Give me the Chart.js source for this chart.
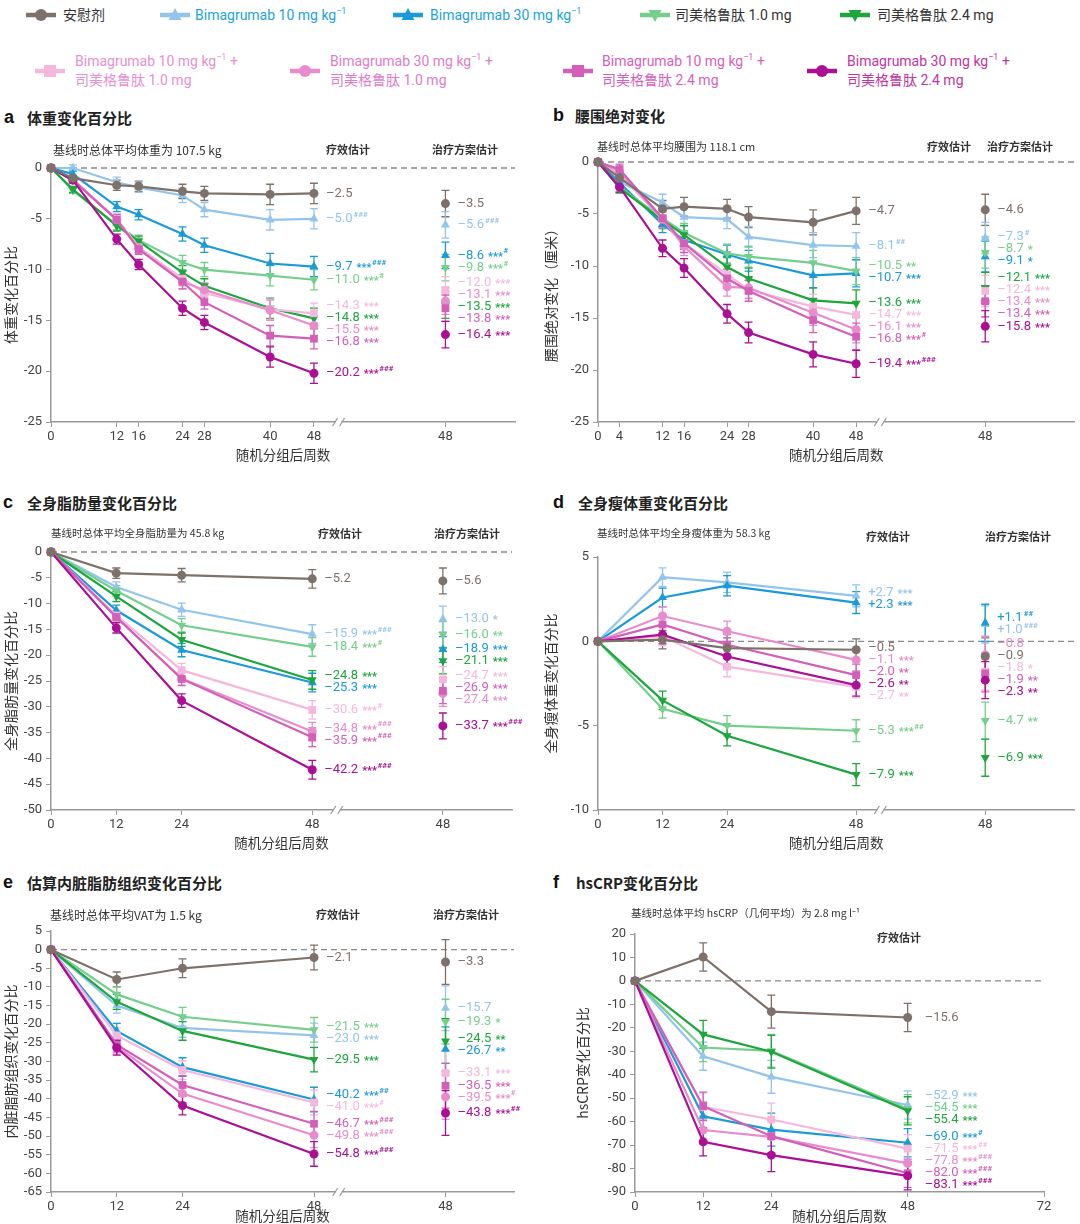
<!DOCTYPE html>
<html>
<head>
<meta charset="utf-8">
<script src="https://cdn.jsdelivr.net/npm/chart.js@4.4.0/dist/chart.umd.min.js"></script>
<style>
body { margin: 0; width: 1080px; height: 1224px; position: relative; background: #fff; overflow: hidden;
  font-family: Roboto, 'Noto Sans CJK SC', sans-serif; }
canvas { position: absolute; }
.lgi { position: absolute; }
.lgt { position: absolute; white-space: nowrap; font-size: 14px; line-height: 19px; }
.lgt sup { font-size: 9px; line-height: 0; vertical-align: 6px; }
.tl { position: absolute; font-family: 'Liberation Sans', Arial, sans-serif; font-weight: bold; font-size: 18px; line-height: 20px; color: #111; }
.tt { position: absolute; font-family: 'Noto Sans CJK SC', sans-serif; font-weight: bold; font-size: 15px; line-height: 20px; color: #222; }
</style>
</head>
<body>
<div id="legend"></div>
<div id="titles"></div>
<canvas id="cA"></canvas>
<canvas id="cB"></canvas>
<canvas id="cC"></canvas>
<canvas id="cD"></canvas>
<canvas id="cE"></canvas>
<canvas id="cF"></canvas>
<script>
// ---- series ----
const seriesNames = ['安慰剂', 'Bimagrumab 10 mg kg⁻¹', 'Bimagrumab 30 mg kg⁻¹', '司美格鲁肽 1.0 mg', '司美格鲁肽 2.4 mg',
  'Bimagrumab 10 mg kg⁻¹ + 司美格鲁肽 1.0 mg', 'Bimagrumab 30 mg kg⁻¹ + 司美格鲁肽 1.0 mg',
  'Bimagrumab 10 mg kg⁻¹ + 司美格鲁肽 2.4 mg', 'Bimagrumab 30 mg kg⁻¹ + 司美格鲁肽 2.4 mg']
const seriesColors = ['#7e716a', '#93c5ec', '#1b9ad8', '#74cf8b', '#1ca63c', '#f5b8dd', '#e88ccd', '#d35fb9', '#ab0f95']
const legendTextColors = ['#333', '#21a3de', '#21a3de', '#333', '#333', '#e690d2', '#e07cc8', '#d65fbb', '#c2359f']
const seriesMarkers = ['circle', 'triangle', 'triangle', 'triangle', 'triangle', 'rect', 'circle', 'rect', 'circle']
const markerRotation = [0, 0, 0, 180, 180, 0, 0, 0, 0]

const weeksLong = [0, 4, 12, 16, 24, 28, 40, 48]
const weeksShort = [0, 12, 24, 48]

// a 体重变化百分比
const weightPct = [
  [0, -1.0, -1.7, -1.8, -2.3, -2.5, -2.6, -2.5],
  [0, 0.0, -1.4, -1.9, -2.7, -4.1, -5.1, -5.0],
  [0, -0.6, -3.8, -4.6, -6.5, -7.6, -9.4, -9.7],
  [0, -2.2, -5.6, -7.1, -9.3, -10.0, -10.6, -11.0],
  [0, -2.1, -5.7, -7.2, -10.3, -11.6, -13.8, -14.8],
  [0, -1.2, -5.0, -7.8, -10.9, -12.3, -13.9, -14.3],
  [0, -1.1, -5.1, -7.9, -11.2, -12.0, -14.0, -15.5],
  [0, -1.2, -5.1, -8.0, -11.2, -13.2, -16.5, -16.8],
  [0, -1.2, -7.0, -9.5, -13.8, -15.2, -18.6, -20.2]
]
const weightErr = [0, 0.3, 0.5, 0.5, 0.7, 0.7, 1.0, 1.0]
const weightReg = [-3.5, -5.6, -8.6, -9.8, -13.5, -12.0, -13.1, -13.8, -16.4]
const weightStars = ['', '###', '***###', '***#', '***', '***', '***', '***', '***###']
const weightRegStars = ['', '###', '***#', '***#', '***', '***', '***', '***', '***']

// b 腰围绝对变化
const waistCm = [
  [0, -1.5, -4.5, -4.3, -4.5, -5.3, -5.8, -4.7],
  [0, -1.9, -3.9, -5.3, -5.5, -7.2, -8.0, -8.1],
  [0, -2.0, -6.0, -7.5, -8.9, -9.5, -10.9, -10.7],
  [0, -2.4, -5.4, -6.8, -8.8, -9.1, -9.7, -10.5],
  [0, -2.5, -5.6, -7.0, -10.1, -11.2, -13.3, -13.6],
  [0, -1.2, -5.5, -7.8, -10.8, -12.3, -13.9, -14.7],
  [0, -0.9, -5.5, -8.1, -12.0, -12.1, -14.5, -16.1],
  [0, -0.7, -5.4, -7.8, -11.2, -12.4, -15.2, -16.8],
  [0, -2.4, -8.3, -10.2, -14.6, -16.4, -18.5, -19.4]
]
const waistErr = [0, 0.5, 0.8, 0.9, 0.9, 1.0, 1.2, 1.3]
const waistReg = [-4.6, -7.3, -9.1, -8.7, -12.1, -12.4, -13.4, -13.4, -15.8]
const waistStars = ['', '##', '***', '**', '***', '***', '***', '***#', '***###']
const waistRegStars = ['', '#', '*', '*', '***', '***', '***', '***', '***']

// c 全身脂肪量变化百分比
const fatPct = [
  [0, -4.1, -4.5, -5.2],
  [0, -6.8, -11.2, -15.9],
  [0, -11.3, -19.0, -25.3],
  [0, -7.5, -14.2, -18.4],
  [0, -8.6, -17.0, -24.8],
  [0, -12.3, -22.9, -30.6],
  [0, -12.7, -24.5, -34.8],
  [0, -12.6, -24.6, -35.9],
  [0, -14.7, -28.8, -42.2]
]
const fatErr = [0, 1.0, 1.3, 1.8]
const fatReg = [-5.6, -13.0, -18.9, -16.0, -21.1, -24.7, -27.4, -26.9, -33.7]
const fatStars = ['', '***###', '***', '***#', '***', '***#', '***###', '***###', '***###']
const fatRegStars = ['', '*', '***', '**', '***', '***', '***', '***', '***###']

// d 全身瘦体重变化百分比
const leanPct = [
  [0, 0.1, -0.4, -0.5],
  [0, 3.8, 3.5, 2.7],
  [0, 2.6, 3.3, 2.3],
  [0, -4.0, -5.0, -5.3],
  [0, -3.5, -5.6, -7.9],
  [0, 0.3, -1.5, -2.7],
  [0, 1.5, 0.6, -1.1],
  [0, 1.0, -0.2, -2.0],
  [0, 0.4, -0.9, -2.6]
]
const leanErr = [0, 0.55, 0.6, 0.65]
const leanReg = [-0.9, 1.0, 1.1, -4.7, -6.9, -1.8, -0.8, -1.9, -2.3]
const leanStars = ['', '***', '***', '***##', '***', '**', '***', '**', '**']
const leanRegStars = ['', '###', '##', '**', '***', '*', '', '**', '**']

// e 估算内脏脂肪组织变化百分比
const vatPct = [
  [0, -8.0, -5.0, -2.1],
  [0, -15.0, -21.0, -23.0],
  [0, -21.8, -31.5, -40.2],
  [0, -12.0, -18.0, -21.5],
  [0, -14.0, -21.8, -29.5],
  [0, -23.0, -32.3, -41.0],
  [0, -26.0, -38.6, -49.8],
  [0, -25.5, -36.3, -46.7],
  [0, -26.3, -41.8, -54.8]
]
const vatErr = [0, 2.0, 2.5, 3.3]
const vatReg = [-3.3, -15.7, -26.7, -19.3, -24.5, -33.1, -39.5, -36.5, -43.8]
const vatStars = ['', '***', '***##', '***', '***', '***#', '***###', '***###', '***###']
const vatRegStars = ['', '', '**', '*', '**', '***', '***#', '***', '***##']

// f hsCRP变化百分比
const crpPct = [
  [0, 10.2, -13.1, -15.6],
  [0, -32.1, -40.9, -52.9],
  [0, -57.7, -63.4, -69.0],
  [0, -28.4, -29.8, -54.5],
  [0, -22.8, -30.2, -55.4],
  [0, -53.7, -59.1, -71.5],
  [0, -63.6, -66.5, -77.8],
  [0, -53.4, -66.2, -82.0],
  [0, -68.6, -74.3, -83.1]
]
const crpErr = [0, 6, 7, 6]
const crpStars = ['', '***', '***#', '***', '***', '***##', '***###', '***###', '***###']

const fontFam = "Roboto, 'Noto Sans CJK SC', sans-serif"
const cjkFam = "'Noto Sans CJK SC', Roboto, sans-serif"

// ---- legend ----  [icon left, centre y, text left]
const legendPos = [
  [26, 15, 63], [160, 15, 195], [393, 15, 430], [640, 15, 675], [840, 15, 877],
  [35, 71, 75], [290, 71, 330], [563, 71, 602], [807, 71, 847]
]
const legendHtml = ['安慰剂', 'Bimagrumab 10 mg kg<sup>−1</sup>', 'Bimagrumab 30 mg kg<sup>−1</sup>', '司美格鲁肽 1.0 mg', '司美格鲁肽 2.4 mg',
  'Bimagrumab 10 mg kg<sup>−1</sup> +<br>司美格鲁肽 1.0 mg', 'Bimagrumab 30 mg kg<sup>−1</sup> +<br>司美格鲁肽 1.0 mg',
  'Bimagrumab 10 mg kg<sup>−1</sup> +<br>司美格鲁肽 2.4 mg', 'Bimagrumab 30 mg kg<sup>−1</sup> +<br>司美格鲁肽 2.4 mg']

function markerSvg(i) {
  const c = seriesColors[i]
  let shape
  if (seriesMarkers[i] === 'circle') shape = `<circle cx="15" cy="8" r="6" fill="${c}"/>`
  else if (seriesMarkers[i] === 'rect') shape = `<rect x="9" y="2" width="12" height="12" fill="${c}"/>`
  else if (markerRotation[i]) shape = `<polygon points="15,15 21.5,3 8.5,3" fill="${c}"/>`
  else shape = `<polygon points="15,1 21.5,13 8.5,13" fill="${c}"/>`
  return `<svg width="30" height="16"><line x1="0" y1="8" x2="30" y2="8" stroke="${c}" stroke-width="4.5"/>${shape}</svg>`
}

const legend = document.getElementById('legend')
legendPos.forEach(([ix, cy, tx], i) => {
  const two = legendHtml[i].includes('<br>')
  legend.insertAdjacentHTML('beforeend',
    `<div class="lgi" style="left:${ix}px;top:${cy - 8}px">${markerSvg(i)}</div>` +
    `<div class="lgt" style="left:${tx}px;top:${cy - (two ? 19 : 9.5)}px;color:${legendTextColors[i]}">${legendHtml[i]}</div>`)
})

// ---- panel titles ----
const titleList = [
  ['a', 4, 118, 27, '体重变化百分比'], ['b', 553, 116, 575, '腰围绝对变化'],
  ['c', 3, 503, 27, '全身脂肪量变化百分比'], ['d', 553, 503, 578, '全身瘦体重变化百分比'],
  ['e', 3, 883, 27, '估算内脏脂肪组织变化百分比'], ['f', 553, 883, 576, 'hsCRP变化百分比']
]
const titles = document.getElementById('titles')
titleList.forEach(([l, lx, cy, tx, t]) => {
  titles.insertAdjacentHTML('beforeend',
    `<div class="tl" style="left:${lx}px;top:${cy - 11}px">${l}</div><div class="tt" style="left:${tx}px;top:${cy - 10}px">${t}</div>`)
})

// ---- plugins ----
function fmt(v) {
  return (v > 0 ? '+' : v < 0 ? '–' : '') + Math.abs(v).toFixed(1)
}

function spread(items, gap) {
  items.sort((a, b) => a.y0 - b.y0)
  let groups = items.map(it => ({ items: [it], y: it.y0 }))
  let merged = true
  while (merged) {
    merged = false
    for (let i = 0; i < groups.length - 1; i++) {
      const g1 = groups[i], g2 = groups[i + 1]
      const b1 = g1.y + (g1.items.length - 1) * gap / 2
      const t2 = g2.y - (g2.items.length - 1) * gap / 2
      if (t2 - b1 < gap) {
        const all = g1.items.concat(g2.items)
        const y = all.reduce((s, it) => s + it.y0, 0) / all.length
        groups.splice(i, 2, { items: all, y })
        merged = true
        break
      }
    }
  }
  groups.forEach(g => g.items.forEach((it, k) => { it.y = g.y + (k - (g.items.length - 1) / 2) * gap }))
}

function drawLabel(ctx, it, x) {
  ctx.fillStyle = it.color
  ctx.textAlign = 'left'
  ctx.textBaseline = 'middle'
  ctx.font = '13px ' + fontFam
  ctx.fillText(it.text, x, it.y)
  const st = it.stars.replace(/#/g, ''), hs = it.stars.replace(/\*/g, '')
  let cx = x + ctx.measureText(it.text).width + (st ? 4 : 1)
  if (st) {
    ctx.font = 'bold 11px ' + fontFam
    ctx.fillText(st, cx, it.y + 1.5)
    cx += ctx.measureText(st).width + 0.5
  }
  if (hs) {
    ctx.font = 'bold 8px ' + fontFam
    ctx.fillText(hs, cx, it.y - 4)
  }
}

const panelDecor = {
  id: 'panelDecor',
  beforeDatasetsDraw(chart) {
    const { ctx, chartArea: a, scales: { x, y } } = chart
    const y0 = y.getPixelForValue(0)
    ctx.save()
    ctx.strokeStyle = '#8a8a8a'
    ctx.lineWidth = 1.3
    ctx.setLineDash([6, 4])
    ctx.beginPath()
    ctx.moveTo(a.left, y0)
    ctx.lineTo(a.right, y0)
    ctx.stroke()
    ctx.setLineDash([])
    chart.data.datasets.forEach(ds => {
      ctx.strokeStyle = ds.borderColor
      ctx.lineWidth = 1.3
      ds.data.forEach((p, k) => {
        const e = ds.errs[k]
        if (!e) return
        const px = x.getPixelForValue(p.x)
        const ya = y.getPixelForValue(p.y + e), yb = y.getPixelForValue(p.y - e)
        ctx.beginPath()
        ctx.moveTo(px, ya); ctx.lineTo(px, yb)
        ctx.moveTo(px - 4, ya); ctx.lineTo(px + 4, ya)
        ctx.moveTo(px - 4, yb); ctx.lineTo(px + 4, yb)
        ctx.stroke()
      })
    })
    ctx.restore()
  },
  afterDatasetsDraw(chart, args, o) {
    const { ctx, scales: { x, y } } = chart
    const cols = {}
    chart.data.datasets.forEach(ds => {
      const p = ds.data[ds.data.length - 1]
      const list = cols[ds.column] = cols[ds.column] || []
      list.push({ y0: y.getPixelForValue(p.y), px: x.getPixelForValue(p.x), text: ds.endLabel, stars: ds.stars, color: ds.borderColor })
    })
    ctx.save()
    Object.values(cols).forEach(items => {
      spread(items, 12)
      items.forEach(it => drawLabel(ctx, it, it.px + o.labelDx))
    })
    ctx.restore()
  },
  afterDraw(chart, args, o) {
    const { ctx, chartArea: a, scales: { x } } = chart
    ctx.save()
    ctx.textBaseline = 'middle'
    ctx.fillStyle = '#333'
    ctx.textAlign = 'left'
    ctx.font = o.subSize + 'px ' + cjkFam
    ctx.fillText(o.sub, o.subX, o.subY)
    ctx.textAlign = 'center'
    ctx.font = 'bold 11px ' + cjkFam
    ctx.fillText('疗效估计', o.effX, o.headY)
    if (o.regX) ctx.fillText('治疗方案估计', o.regX, o.headY)
    if (o.breakAt) {
      const bx = x.getPixelForValue(o.breakAt)
      ctx.fillStyle = '#fff'
      ctx.fillRect(bx - 3, a.bottom - 3, 6, 6)
      ctx.strokeStyle = '#999'
      ctx.lineWidth = 1.2
      ctx.beginPath()
      ctx.moveTo(bx - 6, a.bottom + 4); ctx.lineTo(bx - 1, a.bottom - 4)
      ctx.moveTo(bx + 1, a.bottom + 4); ctx.lineTo(bx + 6, a.bottom - 4)
      ctx.stroke()
    }
    ctx.restore()
  }
}

// ---- panels ----
const panels = [
  { id: 'cA', left: 0, top: 130, w: 540, h: 337, area: { left: 51, top: 168, right: 515, bottom: 422 },
    xMax: 84.7, xTicks: [0, 12, 16, 24, 28, 40, 48, 72], weeks: weeksLong, values: weightPct, err: weightErr,
    regimen: weightReg, regErr: 1.3, stars: weightStars, regStars: weightRegStars, yMin: -25, yMax: 0, yStep: 5,
    yTitle: '体重变化百分比', sub: '基线时总体平均体重为 107.5 kg', subSize: 12, subX: 53, subY: 150, effX: 348, regX: 465, headY: 150,
    breakAt: 52.5, labelDx: 12, xTitlePad: 4 },
  { id: 'cB', left: 540, top: 130, w: 540, h: 337, area: { left: 598, top: 162, right: 1080, bottom: 422 },
    xMax: 88.6, xTicks: [0, 4, 12, 16, 24, 28, 40, 48, 72], weeks: weeksLong, values: waistCm, err: waistErr,
    regimen: waistReg, regErr: 1.5, stars: waistStars, regStars: waistRegStars, yMin: -25, yMax: 0, yStep: 5,
    yTitle: '腰围绝对变化（厘米）', sub: '基线时总体平均腰围为 118.1 cm', subSize: 11, subX: 597, subY: 147, effX: 949, regX: 1020, headY: 147,
    breakAt: 52.5, labelDx: 12, xTitlePad: 4 },
  { id: 'cC', left: 0, top: 515, w: 540, h: 340, area: { left: 51, top: 552, right: 512, bottom: 810 },
    xMax: 84.7, xTicks: [0, 12, 24, 48, 72], weeks: weeksShort, values: fatPct, err: fatErr,
    regimen: fatReg, regErr: 2.5, stars: fatStars, regStars: fatRegStars, yMin: -50, yMax: 0, yStep: 5,
    yTitle: '全身脂肪量变化百分比', sub: '基线时总体平均全身脂肪量为 45.8 kg', subSize: 10.5, subX: 51, subY: 533, effX: 340, regX: 467, headY: 534,
    breakAt: 52.5, labelDx: 12, xTitlePad: 4 },
  { id: 'cD', left: 540, top: 515, w: 540, h: 340, area: { left: 598, top: 557, right: 1080, bottom: 810 },
    xMax: 88.6, xTicks: [0, 12, 24, 48, 72], weeks: weeksShort, values: leanPct, err: leanErr,
    regimen: leanReg, regErr: 1.1, stars: leanStars, regStars: leanRegStars, yMin: -10, yMax: 5, yStep: 5,
    yTitle: '全身瘦体重变化百分比', sub: '基线时总体平均全身瘦体重为 58.3 kg', subSize: 10.5, subX: 597, subY: 533, effX: 888, regX: 1018, headY: 537,
    breakAt: 52.5, labelDx: 12, xTitlePad: 4 },
  { id: 'cE', left: 0, top: 897, w: 540, h: 327, area: { left: 51, top: 931, right: 514, bottom: 1192 },
    xMax: 84.5, xTicks: [0, 12, 24, 48, 72], weeks: weeksShort, values: vatPct, err: vatErr,
    regimen: vatReg, regErr: 6, stars: vatStars, regStars: vatRegStars, yMin: -65, yMax: 5, yStep: 5,
    yTitle: '内脏脂肪组织变化百分比', sub: '基线时总体平均VAT为 1.5 kg', subSize: 12, subX: 50, subY: 915, effX: 338, regX: 466, headY: 915,
    breakAt: 52.5, labelDx: 12, xTitlePad: 0 },
  { id: 'cF', left: 540, top: 897, w: 540, h: 327, padLeft: 32, area: { left: 635, top: 934, right: 1044, bottom: 1192 },
    xMax: 72, xTicks: [0, 12, 24, 48, 72], weeks: weeksShort, values: crpPct, err: crpErr,
    regimen: null, stars: crpStars, yMin: -90, yMax: 20, yStep: 10,
    yTitle: 'hsCRP变化百分比', sub: '基线时总体平均 hsCRP（几何平均）为 2.8 mg l⁻¹', subSize: 10.5, subX: 631, subY: 913, effX: 899, regX: null, headY: 938,
    breakAt: null, labelDx: 17, xTitlePad: 0 }
]

function makePanel(p) {
  const canvas = document.getElementById(p.id)
  canvas.width = p.w
  canvas.height = p.h
  canvas.style.left = p.left + 'px'
  canvas.style.top = p.top + 'px'

  const datasets = []
  seriesNames.forEach((name, i) => {
    const common = {
      borderColor: seriesColors[i],
      backgroundColor: seriesColors[i],
      pointStyle: seriesMarkers[i],
      pointRotation: markerRotation[i],
      pointRadius: seriesMarkers[i] === 'circle' ? 4.5 : seriesMarkers[i] === 'rect' ? 5.5 : 5.2,
      pointBorderWidth: 0,
      clip: false,
      order: i === 0 ? 0 : 9 - i
    }
    datasets.push({
      ...common,
      label: name,
      data: p.weeks.map((w, k) => ({ x: w, y: p.values[i][k] })),
      borderWidth: 2.2,
      tension: 0,
      errs: p.err,
      endLabel: fmt(p.values[i][p.values[i].length - 1]),
      stars: p.stars[i],
      column: 'eff'
    })
    if (p.regimen) {
      datasets.push({
        ...common,
        label: name + ' 治疗方案估计',
        data: [{ x: 72, y: p.regimen[i] }],
        showLine: false,
        errs: [p.regErr],
        endLabel: fmt(p.regimen[i]),
        stars: p.regStars[i],
        column: 'reg'
      })
    }
  })

  const padLeft = p.padLeft || 0
  const loc = v => v - p.left
  new Chart(canvas, {
    type: 'line',
    data: { datasets },
    options: {
      responsive: false,
      animation: false,
      layout: { padding: { top: p.area.top - p.top, right: p.left + p.w - p.area.right, left: padLeft, bottom: 0 } },
      plugins: {
        legend: { display: false },
        tooltip: { enabled: false },
        panelDecor: {
          sub: p.sub, subSize: p.subSize, subX: loc(p.subX), subY: p.subY - p.top,
          effX: loc(p.effX), regX: p.regX ? loc(p.regX) : null, headY: p.headY - p.top,
          breakAt: p.breakAt, labelDx: p.labelDx
        }
      },
      scales: {
        x: {
          type: 'linear', min: 0, max: p.xMax,
          afterBuildTicks: ax => { ax.ticks = p.xTicks.map(v => ({ value: v })) },
          afterFit: ax => { ax.height = p.top + p.h - p.area.bottom },
          ticks: {
            autoSkip: false, maxRotation: 0, padding: 2, color: '#444',
            font: { family: fontFam, size: 13 },
            callback: v => (v === 72 && p.regimen ? '48' : String(v))
          },
          grid: { display: true, drawOnChartArea: false, tickLength: 5, color: '#999' },
          border: { color: '#999', width: 1.5 },
          title: { display: true, text: '随机分组后周数', color: '#333', font: { family: cjkFam, size: 13.5 },
            padding: { top: 0, bottom: p.xTitlePad } }
        },
        y: {
          min: p.yMin, max: p.yMax,
          afterFit: ax => { ax.width = p.area.left - p.left - padLeft },
          ticks: { stepSize: p.yStep, color: '#444', padding: 4, font: { family: fontFam, size: 13 } },
          grid: { display: true, drawOnChartArea: false, tickLength: 5, color: '#999' },
          border: { color: '#999', width: 1.5 },
          title: { display: true, text: p.yTitle, color: '#333', font: { family: cjkFam, size: 14 },
            padding: { top: 2, bottom: 0 } }
        }
      }
    },
    plugins: [panelDecor]
  })
}

panels.forEach(makePanel)
</script>
</body>
</html>
